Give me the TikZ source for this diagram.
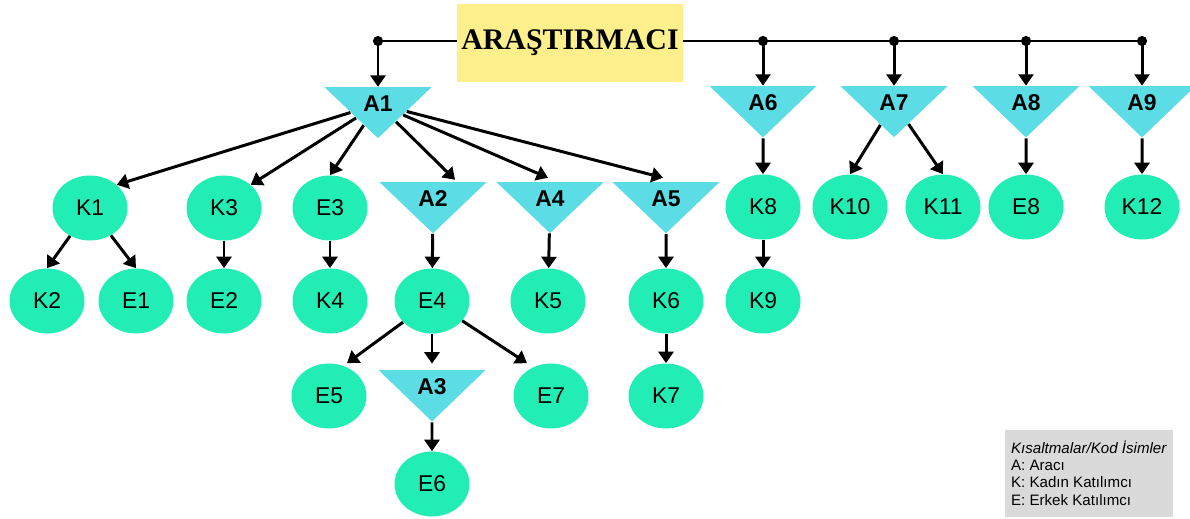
\documentclass[tikz,border=0pt]{standalone}
\usepackage{fontspec}
\setmainfont{Liberation Sans}
\newfontfamily\timesfont{Liberation Serif}
\usetikzlibrary{shapes.geometric,arrows.meta,calc}
\definecolor{katilimci}{HTML}{22EDB4}
\definecolor{araci}{HTML}{5CDCE4}
\definecolor{sari}{HTML}{FCEF8C}
\definecolor{gri}{HTML}{DADADA}
\begin{document}
\begin{tikzpicture}[x=0.02cm,y=-0.02cm,
  kat/.style={ellipse,fill=katilimci,minimum width=1.5cm,minimum height=1.3cm,inner sep=0pt,font=\fontsize{13}{15}\selectfont},
  arac/.style={isosceles triangle,isosceles triangle stretches,shape border rotate=270,fill=araci,minimum width=2.14cm,minimum height=0.94cm,inner sep=0pt,font=\bfseries\fontsize{13}{15}\selectfont},
  kutu/.style={fill=sari,minimum width=4.52cm,minimum height=1.56cm,inner sep=1pt,font=\timesfont\bfseries\fontsize{17}{20}\selectfont},
  lejant/.style={fill=gri,minimum width=3.36cm,minimum height=1.74cm,align=left,font=\fontsize{8.6}{9.8}\selectfont},
  ok/.style={-{Triangle[width=8.5pt,length=6.5pt]},line width=1.7pt}]
\useasboundingbox (0,0) rectangle (1190,518);

% ust hat
\coordinate (d1) at (378,41);
\coordinate (d2) at (763,41);
\coordinate (d3) at (894,41);
\coordinate (d4) at (1026,41);
\coordinate (d5) at (1142,41);
\draw[line width=1.7pt] (d1) -- (d5);
\node[kutu] (arastirmaci) at (570,43) {ARAŞTIRMACI};
\foreach \d in {d1,d2,d3,d4,d5}
  \fill (\d) circle[radius=2.9pt];

% aracilar
\node[arac] (A1) at (378,104) {A1};
\node[arac] (A6) at (763,103) {A6};
\node[arac] (A7) at (894,103) {A7};
\node[arac] (A8) at (1026,103) {A8};
\node[arac] (A9) at (1142,103) {A9};
\node[arac] (A2) at (433,199) {A2};
\node[arac] (A4) at (550,199) {A4};
\node[arac] (A5) at (666,199) {A5};
\node[arac] (A3) at (432,387) {A3};

% katilimcilar
\node[kat] (K1) at (90,208) {K1};
\node[kat] (K3) at (224,208) {K3};
\node[kat] (E3) at (330,208) {E3};
\node[kat] (K8) at (763,207) {K8};
\node[kat] (K10) at (850,207) {K10};
\node[kat] (K11) at (943,207) {K11};
\node[kat] (E8) at (1026,207) {E8};
\node[kat] (K12) at (1142,207) {K12};
\node[kat] (K2) at (47,301) {K2};
\node[kat] (E1) at (136,301) {E1};
\node[kat] (E2) at (224,301) {E2};
\node[kat] (K4) at (330,301) {K4};
\node[kat] (E4) at (432,301) {E4};
\node[kat] (K5) at (548,301) {K5};
\node[kat] (K6) at (666,301) {K6};
\node[kat] (K9) at (763,301) {K9};
\node[kat] (E5) at (329,396) {E5};
\node[kat] (E7) at (551,396) {E7};
\node[kat] (K7) at (666,396) {K7};
\node[kat] (E6) at (432,484) {E6};

% oklar
\draw[ok] (d1) -- (A1.north);
\draw[ok] (d2) -- (A6.north);
\draw[ok] (d3) -- (A7.north);
\draw[ok] (d4) -- (A8.north);
\draw[ok] (d5) -- (A9.north);

\draw[ok] (A1) -- (K1.north east);
\draw[ok] (A1) -- (K3.north east);
\draw[ok] (A1) -- (E3.north);
\draw[ok] (A1) -- ($(A2.north)+(22,-2)$);
\draw[ok] (A1) -- ($(A4.north)+(-2,-4)$);
\draw[ok] (A1) -- ($(A5.north)+(-3,-4)$);

\draw[ok] (K1) -- (K2.north);
\draw[ok] (K1) -- (E1.north);
\draw[ok] (K3) -- (E2);
\draw[ok] (E3) -- (K4);
\draw[ok] (A2) -- (E4);
\draw[ok] (A4) -- (K5);
\draw[ok] (A5) -- (K6);
\draw[ok] (K6) -- (K7);
\draw[ok] (E4) -- ($(E5.north)+(18,0)$);
\draw[ok] (E4) -- ($(A3.north)+(0,-6)$);
\draw[ok] (E4) -- ($(E7.north)+(-24,0)$);
\draw[ok] (A3) -- (E6);

\draw[ok] (A6) -- (K8);
\draw[ok] (K8) -- (K9);
\draw[ok] (A7) -- (K10.north);
\draw[ok] (A7) -- (K11.north);
\draw[ok] (A8) -- (E8);
\draw[ok] (A9) -- (K12);

\node[lejant] (lejant) at (1089,473) {\textit{Kısaltmalar/Kod İsimler}\\A: Aracı\\K: Kadın Katılımcı\\E: Erkek Katılımcı};
\end{tikzpicture}
\end{document}
